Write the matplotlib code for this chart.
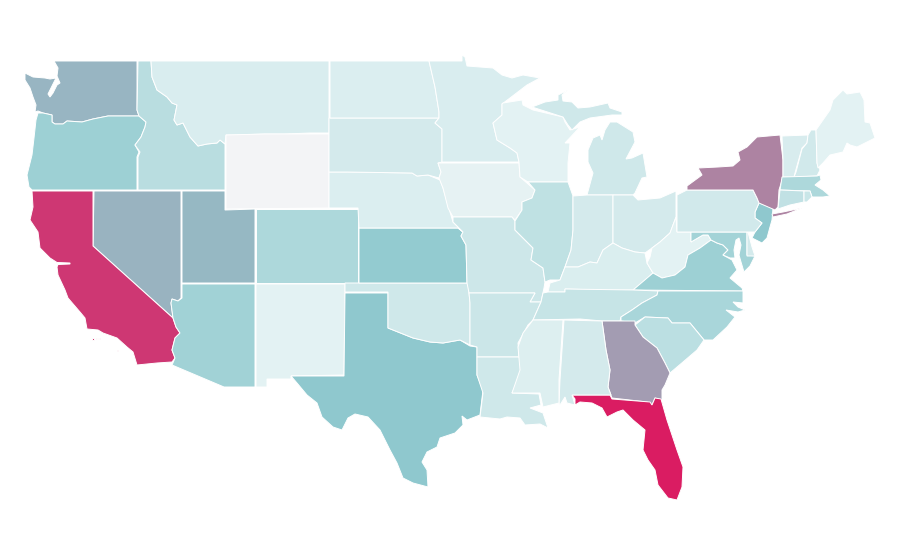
import matplotlib
matplotlib.use('Agg')
import matplotlib.pyplot as plt
from matplotlib.colors import LinearSegmentedColormap

# State outlines (x, y in image pixels)
WA = [(54,61),(137,61),(137,110),(139,116),(108,116),(93,119),(82,122),(67,121),(63,124),(55,124),(52,122),(52,115),(43,113),(38,111),(35,112),(36,105),(33,97),(30,88),(25,80),(25,73),(33,77),(45,78),(50,79),(56,78),(52,86),(48,94),(50,97),(53,93),(57,85),(60,83),(57,76),(58,68)]
OR = [(38,113),(43,113),(52,115),(52,122),(55,124),(63,124),(67,121),(82,122),(93,119),(108,116),(139,116),(146,122),(145,127),(141,137),(135,145),(139,152),(137,157),(137,190),(32,190),(29,187),(27,175),(32,155),(34,138),(36,120)]
ID = [(138,61),(151,61),(152,77),(157,90),(167,97),(172,103),(177,105),(174,120),(177,125),(183,123),(190,137),(198,146),(207,144),(217,143),(220,140),(225,144),(225,190),(138,190),(138,157),(140,152),(135,145),(141,137),(145,127),(146,122),(139,116),(137,110)]
MT = [(151,61),(329,61),(329,133),(310,133),(285,134),(265,134),(235,135),(226,135),(225,144),(220,140),(217,143),(207,144),(198,146),(190,137),(183,123),(177,125),(174,120),(177,105),(172,103),(167,97),(157,90),(152,77)]
WY = [(226,135),(265,134),(285,134),(329,134),(329,208),(226,209)]
NV = [(94,191),(181,191),(181,298),(178,301),(172,299),(171,303),(173,318),(93,246)]
CA = [(32,191),(93,191),(93,246),(173,318),(176,327),(180,333),(175,338),(172,350),(175,358),(172,362),(157,363),(137,365),(133,352),(127,347),(117,338),(103,333),(98,330),(87,329),(85,318),(80,312),(68,298),(65,290),(58,275),(57,267),(58,264.5),(70,264),(70,263),(57,262.5),(50,258),(40,248),(38,232),(30,220),(33,207)]
CA_ISLE1 = [(92,338),(94,338),(94,340),(92,340)]
CA_ISLE2 = [(96,338),(100,338),(100,339),(96,339)]
CA_ISLE3 = [(117,350),(118,350),(118,351),(117,351)]
UT = [(182,191),(225,191),(225,210),(255,209),(255,283),(182,283)]
CO = [(256,209),(358,209),(358,283),(256,283)]
AZ = [(182,284),(255,284),(255,387),(224,387),(172,365),(175,358),(172,350),(175,338),(180,333),(176,327),(173,318),(171,303),(172,299),(178,301),(182,298)]
NM = [(256,284),(345,284),(344,375),(291,376),(291,379),(267,379),(267,387),(256,387)]
TX = [(345,293),(388,293),(388,328),(398,332),(413,338),(430,342),(443,343),(460,340),(470,346),(477,347),(477,375),(483,390),(480,415),(467,420),(462,416),(463,425),(455,433),(440,438),(437,447),(427,452),(422,462),(427,470),(428,487),(413,483),(403,478),(397,463),(390,450),(380,430),(368,417),(355,414),(348,418),(342,430),(333,427),(322,417),(317,403),(307,395),(297,383),(291,376),(344,376)]
OK = [(345,283),(468,283),(470,303),(470,345),(460,340),(443,343),(430,342),(413,338),(398,332),(388,328),(388,292),(345,292)]
KS = [(359,228),(458,228),(463,232),(461,236),(466,245),(467,283),(359,283)]
NE = [(329,172),(347,172),(412,173),(417,176),(428,175),(440,180),(443,188),(450,212),(453,222),(463,232),(458,228),(359,228),(358,208),(329,208)]
SD = [(329,118),(439,118),(435,123),(442,129),(442,162),(438,163),(441,172),(439,178),(428,175),(417,176),(412,173),(347,172),(329,172)]
ND = [(330,61),(429,61),(435,87),(439,112),(439,118),(330,118)]
MN = [(429,61),(462,61),(462,55),(465,57),(467,66),(493,68),(502,75),(512,78),(523,75),(540,78),(527,85),(510,98),(502,104),(502,115),(493,123),(497,140),(510,148),(517,153),(519,162),(442,162),(442,129),(435,123),(439,118),(439,112),(435,87)]
IA = [(438,163),(519,163),(520,177),(535,190),(532,198),(522,202),(522,210),(515,220),(512,217),(453,217),(448,208),(443,188),(439,178),(441,172)]
MO = [(453,217),(512,217),(515,221),(515,230),(525,240),(533,248),(531,260),(543,268),(545,282),(544,288),(541,302),(530,302),(535,293),(469,293),(467,283),(466,245),(461,236),(463,232),(453,222)]
AR = [(469,293),(535,293),(530,302),(541,302),(533,320),(528,325),(518,343),(519,357),(477,357),(477,347),(470,345),(470,303)]
LA = [(477,357),(519,357),(523,368),(512,393),(539,394),(541,405),(530,408),(543,413),(548,428),(540,424),(525,425),(520,418),(507,417),(500,419),(480,417),(483,393),(477,375)]
WI = [(503,103),(522,100),(523,105),(533,110),(563,117),(565,122),(570,130),(580,127),(565,143),(570,143),(568,163),(568,182),(528,182),(520,177),(519,162),(517,153),(510,148),(497,140),(493,123),(502,115),(502,104)]
MI_UP = [(532,107),(545,102),(558,100),(558,95),(568,90),(562,95),(563,101),(572,102),(578,108),(590,107),(608,103),(610,108),(622,112),(622,115),(612,115),(590,118),(580,122),(572,130),(568,125),(563,117)]
MI_LP = [(610,122),(617,122),(633,132),(635,142),(626,159),(632,158),(643,153),(647,177),(642,178),(635,193),(633,195),(613,195),(587,195),(593,173),(588,162),(588,150),(593,138),(600,135),(602,140),(605,130)]
IL = [(528,182),(568,182),(573,196),(573,230),(571,250),(565,267),(560,280),(550,280),(545,282),(543,268),(531,260),(533,248),(525,240),(515,230),(515,221),(522,210),(522,202),(532,198),(535,190)]
IN = [(573,196),(587,195),(613,195),(613,243),(603,250),(597,263),(590,262),(578,267),(565,267),(571,250),(573,230)]
OH = [(613,195),(633,195),(638,200),(660,198),(676,191),(676,217),(670,233),(660,242),(652,248),(645,253),(635,252),(622,248),(613,243)]
KY = [(548,292),(550,283),(560,280),(565,267),(578,267),(590,262),(597,263),(603,250),(613,243),(622,248),(635,252),(645,253),(647,263),(653,273),(643,282),(633,290),(600,290),(565,289),(565,292)]
WV = [(676,217),(677,232),(691,232),(691,242),(703,235),(708,235),(711,240),(700,248),(688,255),(685,267),(675,275),(662,278),(653,273),(647,263),(650,257),(652,248),(660,242),(670,233)]
VA = [(633,290),(653,273),(662,278),(675,275),(685,267),(688,255),(700,248),(711,240),(717,243),(723,245),(728,250),(723,255),(732,260),(737,270),(730,278),(742,288),(743,291)]
MD = [(691,232),(747,232),(747,255),(755,256),(750,266),(744,272),(741,262),(739,255),(741,245),(739,238),(736,240),(734,250),(735,258),(730,258),(723,255),(728,250),(723,245),(717,243),(711,240),(708,235),(703,235),(691,242)]
DE = [(747,232),(748,232),(752,247),(755,256),(747,256)]
NJ = [(759,203),(773,208),(772,220),(770,227),(767,238),(762,243),(752,238),(755,232),(762,223),(755,218),(755,212)]
PA = [(677,195),(687,190),(753,190),(757,198),(759,203),(755,212),(755,218),(762,223),(755,232),(677,232)]
NY = [(687,186),(702,175),(698,168),(718,167),(733,166),(740,160),(738,152),(747,147),(757,137),(780,135),(783,160),(783,177),(779,190),(778,207),(775,210),(759,203),(757,198),(753,190),(687,190)]
LONG_ISLAND = [(772,214),(783,212),(802,208),(787,214),(773,217)]
VT = [(782,136),(808,135),(807,143),(802,148),(795,173),(794,177),(783,177),(783,160)]
NH = [(808,135),(811,130),(816,130),(817,163),(820,170),(817,176),(794,177),(796,172),(802,149),(807,143)]
ME = [(816,130),(830,110),(833,100),(843,90),(847,94),(860,92),(864,100),(865,122),(870,123),(875,138),(867,142),(857,147),(850,145),(847,143),(843,152),(830,155),(823,163),(818,168),(817,163)]
MA = [(782,177),(817,176),(820,175),(821,180),(815,185),(823,190),(830,196),(823,197),(812,197),(810,191),(780,190)]
CT = [(780,190),(804,191),(804,202),(790,205),(778,209)]
RI = [(804,191),(810,191),(812,197),(807,202),(804,202)]
TN = [(541,302),(543,293),(548,292),(565,292),(565,289),(633,290),(658,291),(657,295),(642,303),(632,310),(621,317),(620,321),(602,321),(580,319),(533,320)]
NC = [(658,291),(743,291),(743,303),(733,302),(738,307),(745,310),(738,312),(726,310),(735,317),(727,327),(713,340),(704,340),(690,323),(672,323),(668,318),(645,317),(635,323),(621,321),(621,317),(632,310),(642,303),(657,295)]
SC = [(635,325),(645,317),(668,318),(672,323),(690,323),(704,340),(697,350),(683,362),(670,373),(665,363),(657,348),(643,337)]
GA = [(602,321),(635,321),(635,325),(643,337),(657,348),(665,363),(670,373),(665,385),(662,390),(662,400),(655,398),(652,405),(647,402),(612,398),(608,387),(610,370),(606,350)]
FL = [(572,395),(610,395),(612,399),(650,402),(652,405),(655,398),(661,399),(667,420),(677,450),(683,467),(682,487),(677,500),(668,498),(658,485),(655,470),(648,460),(643,450),(645,430),(633,420),(623,410),(617,412),(607,417),(602,408),(592,403),(580,402),(575,405),(575,399)]
AL = [(564,320),(602,321),(606,350),(610,370),(608,387),(611,395),(572,395),(575,405),(567,403),(565,397),(560,405),(559,403),(560,380)]
MS = [(533,320),(563,320),(559,380),(559,403),(543,407),(540,393),(512,393),(520,370),(518,347),(523,333)]

# Rough value per state, read off the colour of each state
shapes = [WA, OR, ID, MT, WY, NV, CA, CA_ISLE1, CA_ISLE2, CA_ISLE3, UT, CO, AZ, NM, TX, OK, KS, NE, SD, ND, MN, IA, MO, AR, LA, WI, MI_UP, MI_LP, IL, IN, OH, KY, WV, VA, MD, DE, NJ, PA, NY, LONG_ISLAND, VT, NH, ME, MA, CT, RI, TN, NC, SC, GA, FL, AL, MS]
values = [55.5, 43, 29, 13, 0, 56.5, 92, 92, 92, 92, 55, 35, 41, 8, 50, 18, 48, 12, 16, 12, 13, 7, 19, 20, 18, 8, 18, 18, 26, 16, 16, 12.5, 8.5, 43, 40, 16, 50, 17, 70, 70, 14, 17, 8, 35, 25, 21, 23, 37, 28, 63, 100, 16, 11]

cmap = LinearSegmentedColormap.from_list('states', [(0, '#f3f4f6'), (0.08, '#e3f2f3'), (0.5, '#8fc9ce'), (1, '#da1c62')])

fig = plt.figure(figsize=(9, 5.6), dpi=100)
ax = fig.add_axes([0, 0, 1, 1])

for shape, value in zip(shapes, values):
    xs, ys = zip(*shape)
    ax.fill(xs, ys, facecolor=cmap(value / 100), edgecolor='white', linewidth=0.7)

ax.set_xlim(0, 900)
ax.set_ylim(560, 0)
ax.axis('off')

plt.savefig('out.png', dpi=100)
